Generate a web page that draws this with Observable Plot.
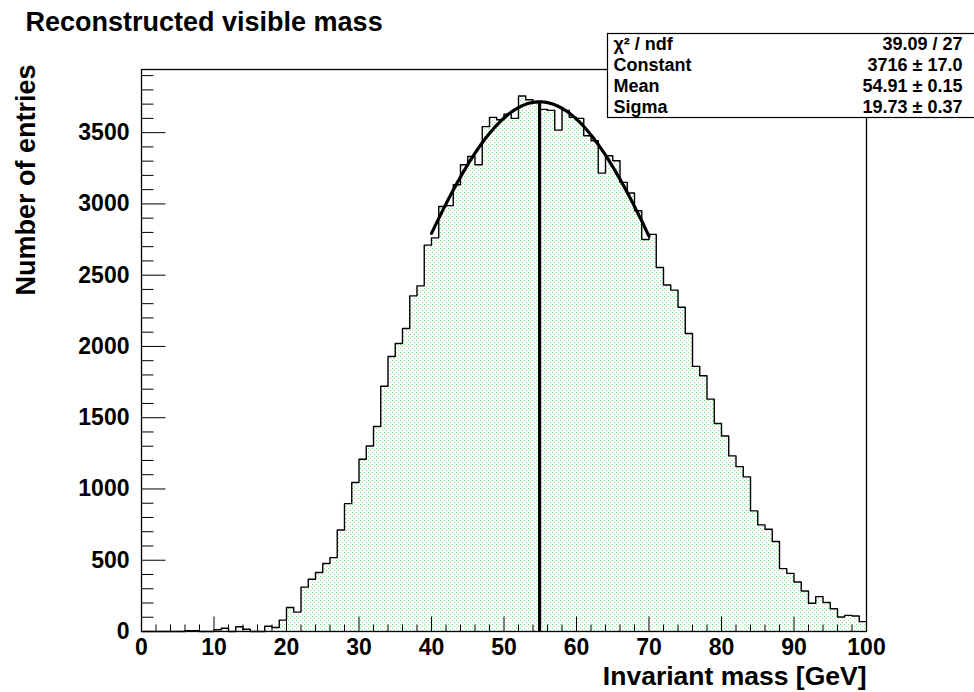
<!DOCTYPE html>
<html><head><meta charset="utf-8">
<script src="https://cdn.jsdelivr.net/npm/d3@7"></script>
<script src="https://cdn.jsdelivr.net/npm/@observablehq/plot@0.6"></script>
<style>
  html,body{margin:0;padding:0;background:#fff}
  #chart svg{display:block}
</style>
</head><body><div id="chart"></div>
<script>
// ---- data ----
const xRange = [0, 100];
const nBins = 100;
const counts = [
  0, 0, 0, 0, 0, 0, 5, 5, 0, 0,
  12, 23, 0, 33, 16, 0, 0, 37, 28, 80,
  168, 136, 311, 367, 414, 477, 518, 712, 897, 1045,
  1209, 1302, 1438, 1721, 1929, 2021, 2126, 2355, 2425, 2711,
  2762, 2982, 2988, 3134, 3275, 3333, 3275, 3542, 3607, 3590,
  3630, 3600, 3757, 3731, 3712, 3663, 3656, 3518, 3656, 3607,
  3600, 3478, 3443, 3216, 3338, 3303, 3151, 3076, 2952, 2750,
  2786, 2554, 2431, 2395, 2275, 2091, 1860, 1794, 1630, 1459,
  1372, 1232, 1157, 1085, 846, 748, 717, 631, 441, 408,
  347, 284, 198, 245, 203, 160, 102, 113, 109, 69
];
const yMax = 3943;
const xTickMajor = [0, 10, 20, 30, 40, 50, 60, 70, 80, 90, 100];
const yTickMajor = [0, 500, 1000, 1500, 2000, 2500, 3000, 3500];
const xMinorStep = 2;
const yMinorStep = 100;
const fitRange = [40, 70];
const fitConstant = 3716;
const fitMean = 54.91;
const fitSigma = 19.73;
const statNames = ["χ² / ndf", "Constant", "Mean", "Sigma"];
const statValues = ["39.09 / 27", "3716 ± 17.0", "54.91 ± 0.15", "19.73 ± 0.37"];
const titleText = "Reconstructed visible mass";
const xTitle = "Invariant mass [GeV]";
const yTitle = "Number of entries";

// ---- derived tables ----
const binW = (xRange[1] - xRange[0]) / nBins;
const histPts = counts.map((c, i) => ({x: xRange[0] + i * binW, y: c}));
histPts.push({x: xRange[1], y: counts[counts.length - 1]});
const fitPts = d3.range(fitRange[0], fitRange[1] + 1e-9, 0.2).map(x => ({
  x, y: fitConstant * Math.exp(-0.5 * ((x - fitMean) / fitSigma) ** 2)
}));
const xMinor = d3.range(xRange[0], xRange[1] + 1e-9, xMinorStep).filter(v => !xTickMajor.includes(v));
const yMinor = d3.range(0, yMax, yMinorStep).filter(v => !yTickMajor.includes(v));

const FONT = "'Liberation Sans', Arial, Helvetica, sans-serif";

// inward tick symbols (pixel lengths)
const tickRight = L => ({draw(ctx) { ctx.moveTo(0, 0); ctx.lineTo(L, 0); }});
const tickUp = L => ({draw(ctx) { ctx.moveTo(0, 0); ctx.lineTo(0, -L); }});

const defsMark = () => {
  const defs = d3.create("svg:defs");
  const p = defs.append("pattern").attr("id", "rootDots")
    .attr("width", 4).attr("height", 4).attr("patternUnits", "userSpaceOnUse");
  p.append("rect").attr("x", 0).attr("y", 0).attr("width", 1).attr("height", 1).attr("fill", "#66ff66");
  p.append("rect").attr("x", 2).attr("y", 2).attr("width", 1).attr("height", 1).attr("fill", "#b4b4b4");
  return defs.node();
};

const statsBox = () => {
  const g = d3.create("svg:g");
  g.append("rect").attr("x", 607.5).attr("y", 33.5).attr("width", 380).attr("height", 84)
    .attr("fill", "#fff").attr("stroke", "#000").attr("stroke-width", 1.2);
  return g.node();
};

const statRowDy = [-25.5, -4.5, 16.5, 37.5];
const statMarks = [];
statNames.forEach((name, i) => {
  statMarks.push(Plot.text([name], {text: d => d, frameAnchor: "top-left", dx: 472, dy: statRowDy[i],
    textAnchor: "start", lineAnchor: "middle", fontSize: 18, fontWeight: "bold", fill: "#000"}));
  statMarks.push(Plot.text([statValues[i]], {text: d => d, frameAnchor: "top-right", dx: 96, dy: statRowDy[i],
    textAnchor: "end", lineAnchor: "middle", fontSize: 18, fontWeight: "bold", fill: "#000"}));
});

const chart = Plot.plot({
  width: 974,
  height: 692,
  marginLeft: 141,
  marginRight: 108,
  marginTop: 69,
  marginBottom: 61,
  style: {fontFamily: FONT, fontWeight: "bold", background: "#fff", color: "#000", overflow: "visible"},
  x: {domain: xRange, axis: null},
  y: {domain: [0, yMax], axis: null},
  marks: [
    defsMark,
    Plot.areaY(histPts, {x: "x", y: "y", curve: "step-after", fill: "url(#rootDots)"}),
    Plot.line(histPts, {x: "x", y: "y", curve: "step-after", stroke: "#000", strokeWidth: 1.4}),
    Plot.line(fitPts, {x: "x", y: "y", stroke: "#000", strokeWidth: 3.2}),
    Plot.ruleX([fitMean], {y1: 0, y2: fitConstant, stroke: "#000", strokeWidth: 3.2}),
    Plot.frame({stroke: "#000", strokeWidth: 1.3}),
    Plot.dot(xTickMajor, {x: d => d, y: () => 0, symbol: tickUp(15), fill: "none", stroke: "#000", strokeWidth: 1}),
    Plot.dot(xMinor, {x: d => d, y: () => 0, symbol: tickUp(7), fill: "none", stroke: "#000", strokeWidth: 1}),
    Plot.dot(yTickMajor, {x: () => xRange[0], y: d => d, symbol: tickRight(24), fill: "none", stroke: "#000", strokeWidth: 1}),
    Plot.dot(yMinor, {x: () => xRange[0], y: d => d, symbol: tickRight(12), fill: "none", stroke: "#000", strokeWidth: 1}),
    Plot.text(xTickMajor, {x: d => d, y: () => 0, text: d => String(d), dy: 7, lineAnchor: "top", textAnchor: "middle", fontSize: 23, fontWeight: "bold", fill: "#000"}),
    Plot.text(yTickMajor, {x: () => xRange[0], y: d => d, text: d => String(d), dx: -12, lineAnchor: "middle", textAnchor: "end", fontSize: 23, fontWeight: "bold", fill: "#000"}),
    Plot.text([xTitle], {text: d => d, frameAnchor: "bottom-right", dy: 45, textAnchor: "end", lineAnchor: "middle", fontSize: 26.5, fontWeight: "bold", fill: "#000"}),
    Plot.text([yTitle], {text: d => d, frameAnchor: "top-left", dx: -115, dy: -5, rotate: -90, textAnchor: "end", lineAnchor: "middle", fontSize: 27, fontWeight: "bold", fill: "#000"}),
    Plot.text([titleText], {text: d => d, frameAnchor: "top-left", dx: -116, dy: -47, textAnchor: "start", lineAnchor: "middle", fontSize: 27, fontWeight: "bold", fill: "#000"}),
    statsBox,
    ...statMarks
  ]
});
document.getElementById("chart").appendChild(chart);
</script>
</body></html>
